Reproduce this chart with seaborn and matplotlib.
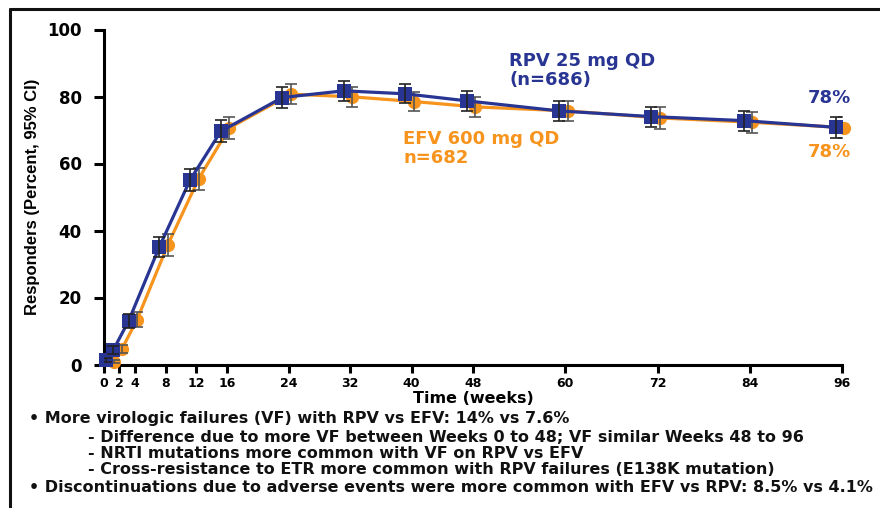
import numpy as np
import pandas as pd
import matplotlib
matplotlib.use("Agg")
import matplotlib.pyplot as plt
import seaborn as sns
from matplotlib.lines import Line2D

# ---------------- data ----------------
weeks = [1, 2, 4, 8, 12, 16, 24, 32, 40, 48, 60, 72, 84, 96]
rpv = [1.3, 4.3, 13.0, 35.1, 55.1, 69.6, 79.7, 81.7, 80.8, 78.7, 75.7, 74.0, 72.8, 70.8]
efv = [0.8, 4.5, 13.4, 35.7, 55.4, 70.6, 80.7, 79.9, 78.5, 76.9, 75.7, 73.6, 72.3, 70.7]
rpv_err = [0.6, 1.2, 2.0, 3.0, 3.2, 3.3, 3.0, 2.9, 2.8, 2.9, 3.0, 3.0, 3.0, 3.1]
efv_err = [0.5, 1.2, 2.2, 3.3, 3.4, 3.3, 3.0, 2.9, 2.9, 3.0, 3.1, 3.2, 3.1, 3.2]
xticks = [0, 2, 4, 8, 12, 16, 24, 32, 40, 48, 60, 72, 84, 96]
yticks = [0, 20, 40, 60, 80, 100]
rpv_label = "RPV 25 mg QD\n(n=686)"
efv_label = "EFV 600 mg QD\nn=682"
rpv_end = "78%"
efv_end = "78%"
notes = [
    ("• More virologic failures (VF) with RPV vs EFV: 14% vs 7.6%", 0),
    ("- Difference due to more VF between Weeks 0 to 48; VF similar Weeks 48 to 96", 1),
    ("- NRTI mutations more common with VF on RPV vs EFV", 1),
    ("- Cross-resistance to ETR more common with RPV failures (E138K mutation)", 1),
    ("• Discontinuations due to adverse events were more common with EFV vs RPV: 8.5% vs 4.1%", 0),
]

NAVY = "#283593"
ORANGE = "#F7941D"

sns.set_style("ticks")
plt.rcParams["font.family"] = ["DejaVu Sans"]
plt.rcParams["text.color"] = "black"
plt.rcParams["axes.labelcolor"] = "black"
plt.rcParams["xtick.color"] = "black"
plt.rcParams["ytick.color"] = "black"
plt.rcParams["axes.edgecolor"] = "black"

W, H = 880, 508
fig = plt.figure(figsize=(W / 100, H / 100), dpi=100)
ax = fig.add_axes([104 / W, 1 - 364.5 / H, (842 - 104) / W, (364.5 - 29.5) / H])

df_r = pd.DataFrame({"week": np.array(weeks) - 0.8, "pct": rpv, "err": rpv_err})
df_e = pd.DataFrame({"week": np.array(weeks) + 0.3, "pct": efv, "err": efv_err})

sns.lineplot(data=df_e, x="week", y="pct", color=ORANGE, marker="o", markersize=9.5,
             markeredgewidth=0, linewidth=2.3, ax=ax, zorder=3, clip_on=False)
ax.errorbar(df_e["week"], df_e["pct"], yerr=df_e["err"], fmt="none", ecolor="#555555",
            elinewidth=1.2, capsize=4, capthick=1.2, zorder=4)
sns.lineplot(data=df_r, x="week", y="pct", color=NAVY, marker="s", markersize=9.5,
             markeredgewidth=0, linewidth=2.3, ax=ax, zorder=5, clip_on=False)
ax.errorbar(df_r["week"], df_r["pct"], yerr=df_r["err"], fmt="none", ecolor="#222222",
            elinewidth=1.2, capsize=4, capthick=1.2, zorder=6)

ax.set_xlim(0, 96)
ax.set_ylim(0, 100)
ax.set_xticks(xticks)
ax.set_yticks(yticks)
ax.set_xticklabels([str(t) for t in xticks], fontsize=9, fontweight="bold")
ax.set_yticklabels([str(t) for t in yticks], fontsize=12, fontweight="bold")
sns.despine(ax=ax)
for s in ("left", "bottom"):
    ax.spines[s].set_linewidth(2.2)
ax.tick_params(axis="y", length=7, width=2.2, pad=9, colors="black")
ax.tick_params(axis="x", length=6, width=2.2, pad=3, colors="black")
ax.set_xlabel("Time (weeks)", fontsize=11.5, fontweight="bold", labelpad=1)
ax.set_ylabel("Responders (Percent, 95% CI)", fontsize=12, fontweight="bold",
              family=["Liberation Sans Narrow", "Liberation Sans"], labelpad=5)
ax.set_facecolor("white")

# annotations
ax.text(52.7, 87.8, rpv_label, color=NAVY, fontsize=13, fontweight="bold",
        ha="left", va="center", linespacing=1.1)
ax.text(38.9, 64.4, efv_label, color=ORANGE, fontsize=13, fontweight="bold",
        ha="left", va="center", linespacing=1.1)
ax.text(94.3, 79.5, rpv_end, color=NAVY, fontsize=13, fontweight="bold",
        ha="center", va="center")
ax.text(94.3, 63.4, efv_end, color=ORANGE, fontsize=13, fontweight="bold",
        ha="center", va="center")

# notes below
ys = [418, 437, 453, 470, 488]
for (txt, lvl), yp in zip(notes, ys):
    xp = 29 if lvl == 0 else 88
    fig.text(xp / W, 1 - yp / H, txt, fontsize=11.5, fontweight="bold",
             ha="left", va="center", color="#111111")

# outer frame
fig.add_artist(Line2D([10 / W, 1.0], [1 - 9 / H, 1 - 9 / H], color="#111111", lw=2.2,
                      transform=fig.transFigure))
fig.add_artist(Line2D([10 / W, 10 / W], [0, 1 - 9 / H], color="#111111", lw=2.2,
                      transform=fig.transFigure))

fig.savefig("out.png", dpi=100, facecolor="white")
